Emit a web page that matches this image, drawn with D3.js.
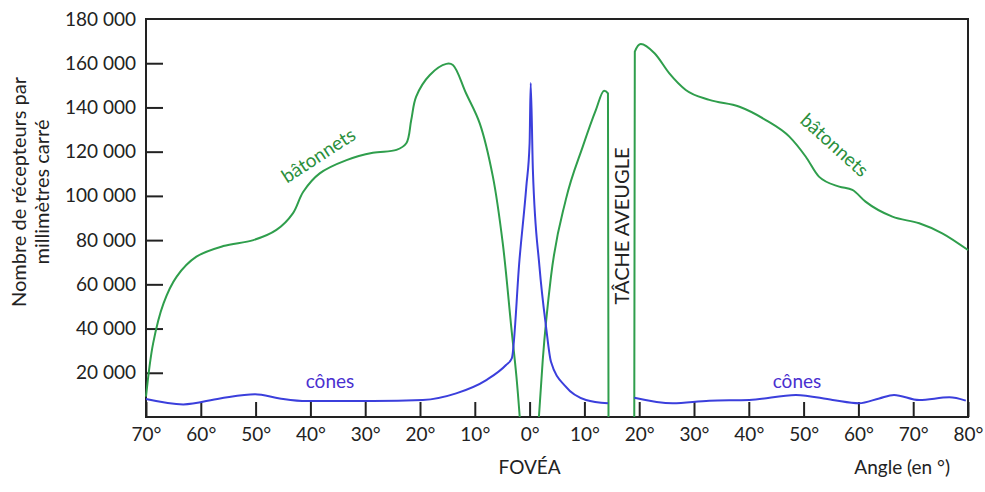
<!DOCTYPE html>
<html>
<head>
<meta charset="utf-8">
<script src="https://cdn.jsdelivr.net/npm/d3@7"></script>
<style>
  body { margin: 0; background: #fff; }
  svg text { font-family: Lato, "Open Sans", sans-serif; }
</style>
</head>
<body>
<svg id="chart" width="985" height="492"></svg>
<script>
// angle in degrees (negative = nasal side, left of fovea), value = receptors / mm2
var rodsLeft = [
  [-70, 9200], [-68.7, 33300], [-66.8, 51400], [-64.4, 63500], [-60.8, 72500],
  [-55.9, 77300], [-50.4, 80000], [-46.2, 84600], [-43.2, 92100], [-41.3, 101900],
  [-38.3, 110200], [-33.4, 116200], [-28.6, 119500], [-24.3, 120800], [-22.5, 123800],
  [-21.6, 134300], [-20.7, 144900], [-18.2, 154700], [-15.2, 159700], [-14, 159200],
  [-11.6, 146400], [-9.1, 132800], [-6.7, 108700], [-4.9, 78600], [-3.35, 40800],
  [-2.4, 18200], [-1.8, 0]
]
var rodsMid = [
  [1.7, 0], [2.4, 25800], [3.9, 63500], [6.6, 98200], [9.7, 122300],
  [12.1, 138900], [13.6, 147600], [14.3, 146400], [14.4, 0]
]
var rodsRight = [
  [19.1, 0], [19.2, 165200], [20.3, 168700], [22.8, 164500], [25.5, 155400],
  [28.5, 147900], [32.8, 143400], [38.3, 140300], [43.1, 134300], [47.4, 126800],
  [50.4, 117700], [52.8, 108700], [56.5, 104200], [58.9, 102700], [61.3, 97400],
  [66.2, 90600], [71.1, 87600], [75.3, 83100], [80, 75500]
]
var conesLeft = [
  [-70, 8100], [-63.2, 5700], [-56.5, 8400], [-50.1, 10300], [-45.6, 8400],
  [-40.7, 7200], [-28.6, 7200], [-19.5, 7700], [-13.4, 10700], [-7.9, 16700],
  [-4.3, 23500], [-3.25, 26500], [-1.85, 71000], [-0.6, 104200], [0, 123800],
  [0.2, 151000], [0.6, 111700], [1.8, 68000], [3.0, 40800], [3.9, 25000],
  [6.6, 13700], [10.3, 7700], [14.3, 6200]
]
var conesRight = [
  [19.1, 8700], [26.1, 6200], [32.8, 7400], [40.1, 7700], [48.6, 10000],
  [55.3, 7700], [60.1, 6200], [63.8, 8400], [66.5, 10000], [71.1, 7700],
  [76.6, 8900], [79.6, 7400]
]
var xTicks = [-70, -60, -50, -40, -30, -20, -10, 0, 10, 20, 30, 40, 50, 60, 70, 80]
var yTicks = [20000, 40000, 60000, 80000, 100000, 120000, 140000, 160000, 180000]

var svg = d3.select('#chart')
  , plotLeft = 146, plotRight = 968, plotTop = 19, plotBottom = 417
  , green = '#2f9e4c', blue = '#3b3fdc'

var x = d3.scaleLinear().domain([-70, 80]).range([plotLeft, plotRight])
var y = d3.scaleLinear().domain([0, 180000]).range([plotBottom, plotTop])

var makeLine = function(curve) {
  return d3.line()
    .x(function(d) { return x(d[0]) })
    .y(function(d) { return y(d[1]) })
    .curve(curve)
}
var smooth = makeLine(d3.curveCatmullRom.alpha(0.5))
  , monotone = makeLine(d3.curveMonotoneX)

// frame
svg.append('rect')
  .attr('x', plotLeft).attr('y', plotTop)
  .attr('width', plotRight - plotLeft).attr('height', plotBottom - plotTop)
  .attr('fill', 'none').attr('stroke', '#222').attr('stroke-width', 2)

// x axis, ticks pointing inside
var fmtDeg = function(d) { return Math.abs(d) + '°' }
var xAxis = svg.append('g')
  .attr('transform', 'translate(0,' + plotBottom + ')')
  .call(d3.axisBottom(x).tickValues(xTicks).tickFormat(fmtDeg).tickSize(-15).tickSizeOuter(0).tickPadding(8))
xAxis.select('.domain').remove()
xAxis.selectAll('line').attr('stroke', '#222').attr('stroke-width', 2)
xAxis.selectAll('text').attr('font-size', 19).attr('fill', '#222')
  .attr('y', 10).attr('dy', '0.75em')

var yAxis = svg.append('g')
  .attr('transform', 'translate(' + plotLeft + ',0)')
  .call(d3.axisLeft(y).tickValues(yTicks).tickFormat(function(d) {
    return d3.format(',')(d).replace(/,/g, ' ')
  }).tickSize(-17).tickSizeOuter(0).tickPadding(9))
yAxis.select('.domain').remove()
yAxis.selectAll('line').attr('stroke', '#222').attr('stroke-width', 2)
  .filter(function(d) { return d === 180000 }).remove()
yAxis.selectAll('text').attr('font-size', 19).attr('fill', '#222')
  .attr('x', -10)

// curves (the blind spot edges need the monotone curve to stay vertical)
var series = [
  [rodsLeft, green, smooth], [rodsMid, green, monotone], [rodsRight, green, monotone],
  [conesLeft, blue, monotone], [conesRight, blue, monotone]
]
series.forEach(function(s) {
  svg.append('path')
    .datum(s[0])
    .attr('d', s[2])
    .attr('fill', 'none')
    .attr('stroke', s[1])
    .attr('stroke-width', 2)
})

// labels
svg.append('text')
  .attr('transform', 'translate(26,192) rotate(-90)')
  .attr('text-anchor', 'middle').attr('font-size', 20).attr('fill', '#222')
  .selectAll('tspan').data(['Nombre de récepteurs par', 'millimètres carré']).enter()
  .append('tspan').attr('x', 0).attr('dy', function(d, i) { return i ? 23 : 0 })
  .text(function(d) { return d })

svg.append('text').attr('x', x(0)).attr('y', 474)
  .attr('text-anchor', 'middle').attr('font-size', 19).attr('fill', '#222').text('FOVÉA')
svg.append('text').attr('x', 950).attr('y', 474)
  .attr('text-anchor', 'end').attr('font-size', 19).attr('fill', '#222').text('Angle (en °)')
svg.append('text')
  .attr('transform', 'translate(629,226) rotate(-90)')
  .attr('text-anchor', 'middle').attr('font-size', 20).attr('fill', '#222').text('TÂCHE AVEUGLE')

svg.append('text')
  .attr('transform', 'translate(322,161) rotate(-33)')
  .attr('text-anchor', 'middle').attr('font-size', 19).attr('fill', '#2a8f3c').text('bâtonnets')
svg.append('text')
  .attr('transform', 'translate(830,150) rotate(42)')
  .attr('text-anchor', 'middle').attr('font-size', 19).attr('fill', '#2a8f3c').text('bâtonnets')

svg.append('text').attr('x', 330).attr('y', 388)
  .attr('text-anchor', 'middle').attr('font-size', 19).attr('fill', '#4a2fd0').text('cônes')
svg.append('text').attr('x', 797).attr('y', 388)
  .attr('text-anchor', 'middle').attr('font-size', 19).attr('fill', '#4a2fd0').text('cônes')
</script>
</body>
</html>
